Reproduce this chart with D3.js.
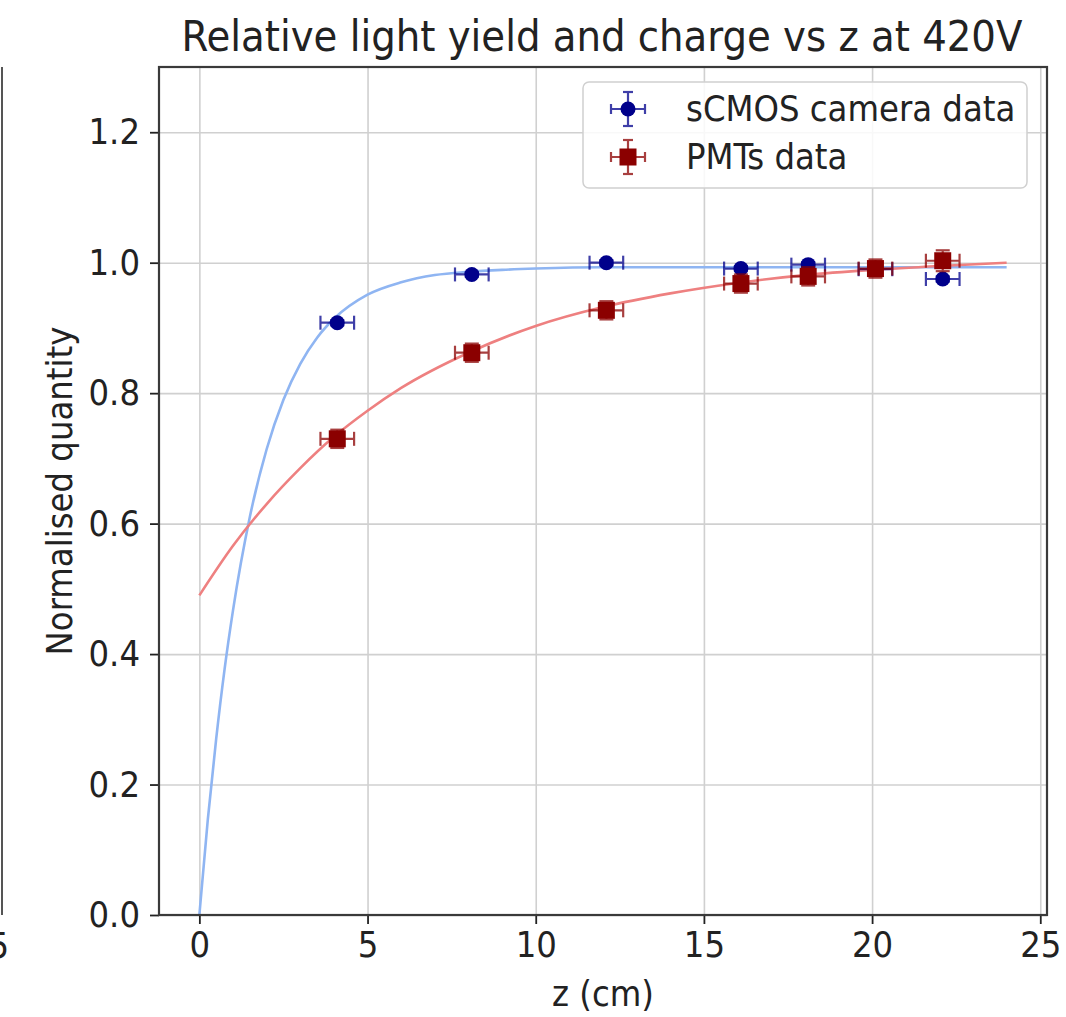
<!DOCTYPE html>
<html>
<head>
<meta charset="utf-8">
<script src="https://cdn.jsdelivr.net/npm/d3@7"></script>
<style>
  body { margin: 0; background: #fff; }
  text { font-family: "DejaVu Sans Condensed", "DejaVu Sans", sans-serif; fill: #222; }
</style>
</head>
<body>
<div id="chart"></div>
<script>
// measured points (z in cm)
const zPoints = [4.1, 8.1, 12.1, 16.1, 18.1, 20.1, 22.1];
const zErr = [0.5, 0.5, 0.5, 0.5, 0.5, 0.5, 0.5];
const cameraVals = [0.908, 0.982, 1.000, 0.991, 0.997, 0.990, 0.975];
const cameraErr = [0.004, 0.004, 0.004, 0.004, 0.004, 0.004, 0.004];
const pmtVals = [0.730, 0.862, 0.927, 0.968, 0.979, 0.991, 1.003];
const pmtErr = [0.014, 0.014, 0.014, 0.014, 0.014, 0.014, 0.016];

// fit curves
const cameraFitZ = [0, 0.25, 0.5, 0.75, 1, 1.5, 2, 2.5, 3, 3.5, 4, 5, 6, 7, 8, 9, 10, 12, 16, 20, 24];
const cameraFit = [0, 0.146, 0.270, 0.377, 0.467, 0.610, 0.714, 0.790, 0.845, 0.885, 0.914, 0.951, 0.970, 0.981, 0.986, 0.989, 0.991, 0.993, 0.993, 0.993, 0.993];
const pmtFitZ = [0, 1, 2, 3, 4, 5, 6, 8, 10, 12, 14, 16, 18, 20, 22, 24];
const pmtFit = [0.490, 0.566, 0.630, 0.685, 0.733, 0.773, 0.808, 0.862, 0.903, 0.932, 0.953, 0.969, 0.981, 0.989, 0.995, 1.000];

const xTicks = [0, 5, 10, 15, 20, 25];
const yTicks = [0.0, 0.2, 0.4, 0.6, 0.8, 1.0, 1.2];
const seriesNames = ["sCMOS camera data", "PMTs data"];

const canvas_width = 1066, canvas_height = 1017;
const margin = {top: 67, right: 19, bottom: 102, left: 159},
  w = canvas_width - margin.left - margin.right,
  h = canvas_height - margin.top - margin.bottom;

const svgRoot = d3.select("#chart").append("svg")
  .attr("width", canvas_width)
  .attr("height", canvas_height);

// edge of the neighbouring panel on the left
svgRoot.append("line")
  .attr("x1", 2).attr("x2", 2)
  .attr("y1", margin.top).attr("y2", margin.top + h)
  .attr("stroke", "#555").attr("stroke-width", 2);
svgRoot.append("text")
  .attr("x", 9).attr("y", 958)
  .attr("text-anchor", "end")
  .style("font-size", "36px")
  .text("5");

const svg = svgRoot.append("g")
  .attr("transform", "translate(" + margin.left + "," + margin.top + ")");

const x = d3.scaleLinear().domain([-1.2, 25.2]).range([0, w]);
const y = d3.scaleLinear().domain([0, 1.3]).range([h, 0]);

// grid
svg.append("g")
  .attr("transform", "translate(0," + h + ")")
  .call(d3.axisBottom(x).tickValues(xTicks).tickSize(-h).tickFormat(""))
  .call(g => g.select(".domain").remove())
  .call(g => g.selectAll("line").attr("stroke", "#d0d0d0").attr("stroke-width", 1.6));
svg.append("g")
  .call(d3.axisLeft(y).tickValues(yTicks).tickSize(-w).tickFormat(""))
  .call(g => g.select(".domain").remove())
  .call(g => g.selectAll("line").attr("stroke", "#d0d0d0").attr("stroke-width", 1.6));

// fit lines
const line = d3.line().curve(d3.curveMonotoneX);
svg.append("path")
  .attr("d", line(cameraFitZ.map((z, i) => [x(z), y(cameraFit[i])])))
  .attr("fill", "none")
  .attr("stroke", "#8fb5f2")
  .attr("stroke-width", 2.6);
svg.append("path")
  .attr("d", line(pmtFitZ.map((z, i) => [x(z), y(pmtFit[i])])))
  .attr("fill", "none")
  .attr("stroke", "#ee8080")
  .attr("stroke-width", 2.6);

function errorBars(g, vals, errs, color) {
  const cap = 7;
  zPoints.forEach((z, i) => {
    const cx = x(z), cy = y(vals[i]);
    const x0 = x(z - zErr[i]), x1 = x(z + zErr[i]);
    const y0 = y(vals[i] - errs[i]), y1 = y(vals[i] + errs[i]);
    const eb = g.append("g").attr("stroke", color).attr("stroke-width", 2.2).attr("opacity", 0.75);
    eb.append("line").attr("x1", x0).attr("x2", x1).attr("y1", cy).attr("y2", cy);
    eb.append("line").attr("x1", x0).attr("x2", x0).attr("y1", cy - cap).attr("y2", cy + cap);
    eb.append("line").attr("x1", x1).attr("x2", x1).attr("y1", cy - cap).attr("y2", cy + cap);
    eb.append("line").attr("x1", cx).attr("x2", cx).attr("y1", y0).attr("y2", y1);
    eb.append("line").attr("x1", cx - cap).attr("x2", cx + cap).attr("y1", y0).attr("y2", y0);
    eb.append("line").attr("x1", cx - cap).attr("x2", cx + cap).attr("y1", y1).attr("y2", y1);
  });
}

// camera data
const camG = svg.append("g");
errorBars(camG, cameraVals, cameraErr, "#00008b");
camG.selectAll("circle").data(zPoints).join("circle")
  .attr("cx", d => x(d))
  .attr("cy", (d, i) => y(cameraVals[i]))
  .attr("r", 7.5)
  .attr("fill", "#00008b");

// PMT data
const pmtG = svg.append("g");
errorBars(pmtG, pmtVals, pmtErr, "#8b0000");
pmtG.selectAll("rect").data(zPoints).join("rect")
  .attr("x", d => x(d) - 8.5)
  .attr("y", (d, i) => y(pmtVals[i]) - 8.5)
  .attr("width", 17).attr("height", 17)
  .attr("fill", "#8b0000");

// axes
const xAxis = svg.append("g")
  .attr("transform", "translate(0," + h + ")")
  .call(d3.axisBottom(x).tickValues(xTicks).tickSize(9).tickPadding(7).tickFormat(d3.format("d")));
const yAxis = svg.append("g")
  .call(d3.axisLeft(y).tickValues(yTicks).tickSize(9).tickPadding(10).tickFormat(d3.format(".1f")));
[xAxis, yAxis].forEach(a => {
  a.select(".domain").remove();
  a.selectAll(".tick line").attr("stroke", "#222").attr("stroke-width", 1.8);
  a.selectAll(".tick text").style("font-size", "36px").attr("fill", "#222");
});

// frame
svg.append("rect")
  .attr("width", w).attr("height", h)
  .attr("fill", "none")
  .attr("stroke", "#3a3a3a")
  .attr("stroke-width", 2.2);

// labels
svgRoot.append("text")
  .attr("x", margin.left + w / 2 - 1).attr("y", 51)
  .attr("text-anchor", "middle")
  .style("font-size", "43px")
  .text("Relative light yield and charge vs z at 420V");
svgRoot.append("text")
  .attr("x", margin.left + w / 2).attr("y", 1006)
  .attr("text-anchor", "middle")
  .style("font-size", "36px")
  .text("z (cm)");
svgRoot.append("text")
  .attr("transform", "translate(72,491) rotate(-90)")
  .attr("text-anchor", "middle")
  .style("font-size", "36px")
  .text("Normalised quantity");

// legend
const leg = svg.append("g").attr("transform", "translate(" + (583 - margin.left) + "," + (82 - margin.top) + ")");
leg.append("rect")
  .attr("width", 444).attr("height", 106).attr("rx", 6)
  .attr("fill", "#fff").attr("fill-opacity", 0.85)
  .attr("stroke", "#d0d0d0").attr("stroke-width", 1.5);
const legColors = ["#00008b", "#8b0000"];
seriesNames.forEach((name, i) => {
  const cy = 27 + i * 48, cx = 45, arm = 17, cap = 5;
  const g = leg.append("g");
  const eb = g.append("g").attr("stroke", legColors[i]).attr("stroke-width", 2.2).attr("opacity", 0.75);
  eb.append("line").attr("x1", cx - arm).attr("x2", cx + arm).attr("y1", cy).attr("y2", cy);
  eb.append("line").attr("x1", cx).attr("x2", cx).attr("y1", cy - arm).attr("y2", cy + arm);
  eb.append("line").attr("x1", cx - arm).attr("x2", cx - arm).attr("y1", cy - cap).attr("y2", cy + cap);
  eb.append("line").attr("x1", cx + arm).attr("x2", cx + arm).attr("y1", cy - cap).attr("y2", cy + cap);
  eb.append("line").attr("x1", cx - cap).attr("x2", cx + cap).attr("y1", cy - arm).attr("y2", cy - arm);
  eb.append("line").attr("x1", cx - cap).attr("x2", cx + cap).attr("y1", cy + arm).attr("y2", cy + arm);
  if (i === 0) {
    g.append("circle").attr("cx", cx).attr("cy", cy).attr("r", 7.5).attr("fill", legColors[i]);
  } else {
    g.append("rect").attr("x", cx - 8.5).attr("y", cy - 8.5).attr("width", 17).attr("height", 17).attr("fill", legColors[i]);
  }
  g.append("text")
    .attr("x", 103).attr("y", cy + 12)
    .style("font-size", "36px")
    .text(name);
});
</script>
</body>
</html>
